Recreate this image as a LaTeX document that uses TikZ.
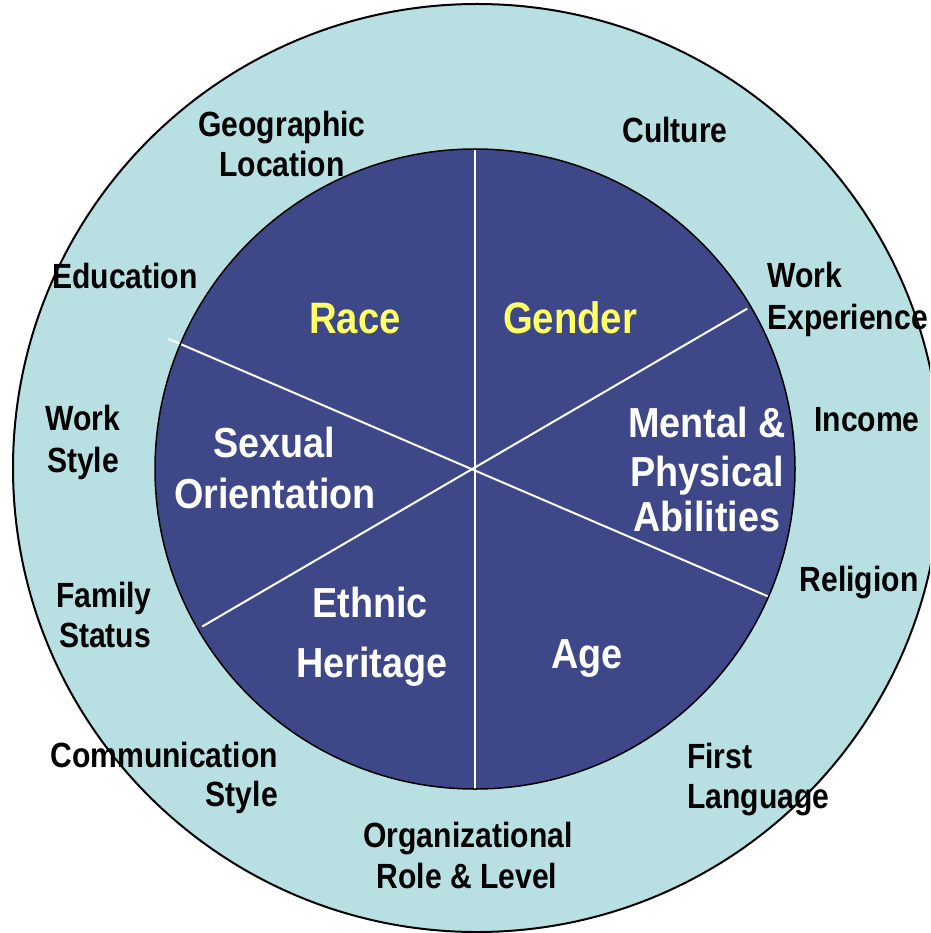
\documentclass[tikz,border=0pt]{standalone}
\usepackage{fontspec}
\setmainfont{Liberation Sans}
\newfontfamily\outerf[FakeStretch=0.86]{Liberation Sans Bold}
\newfontfamily\innerf[FakeStretch=0.9]{Liberation Sans Bold}
\newfontfamily\keyf[FakeStretch=0.87]{Liberation Sans Bold}
\definecolor{ringfill}{HTML}{B8E0E2}
\definecolor{corefill}{HTML}{3E4888}
\definecolor{keyyellow}{HTML}{FFFF66}
\begin{document}
\begin{tikzpicture}[x=1pt,y=-1pt,
  outerlbl/.style={font=\outerf\fontsize{35}{40}\selectfont, text=black, inner sep=0pt, anchor=base},
  innerlbl/.style={font=\innerf\fontsize{42}{48}\selectfont, text=white, inner sep=0pt, anchor=base},
  keylbl/.style={font=\keyf\fontsize{44}{50}\selectfont, text=keyyellow, inner sep=0pt, anchor=base},
  divider/.style={draw=white, line width=2pt}]
\useasboundingbox (0,0) rectangle (930,933);
\clip (0,0) rectangle (930,933);
% rings
\coordinate (oc) at (477,468);
\coordinate (c) at (475,469);
\fill[ringfill] (oc) circle[radius=464];
\draw[black, line width=2pt] (oc) circle[radius=464];
\fill[corefill] (c) circle[radius=320];
% dividers (y axis points down, so angles are mirrored)
\coordinate (vt) at (475,149);
\coordinate (vb) at (475,789);
\path (c) ++(-157:333) coordinate (ul);
\path (c) ++(23.5:320) coordinate (lr);
\path (c) ++(-30.5:316) coordinate (ur);
\path (c) ++(150:315) coordinate (ll);
\draw[divider] (vt) -- (vb);
\draw[divider] (ul) -- (lr);
\draw[divider] (ll) -- (ur);
\draw[black, line width=1.5pt] (c) circle[radius=320];
% outer labels
\node[outerlbl] (geo1) at (282,137) {Geographic};
\node[outerlbl] (geo2) at (282,177) {Location};
\node[outerlbl] (cult) at (675,143) {Culture};
\node[outerlbl] (edu) at (125,288) {Education};
\node[outerlbl, anchor=base west] (wexp1) at (767,287) {Work};
\node[outerlbl, anchor=base west] (wexp2) at (767,329) {Experience};
\node[outerlbl] (wsty1) at (83,430) {Work};
\node[outerlbl] (wsty2) at (83,472) {Style};
\node[outerlbl] (inc) at (867,431) {Income};
\node[outerlbl] (rel) at (859,591) {Religion};
\node[outerlbl] (fam1) at (104,607) {Family};
\node[outerlbl] (fam2) at (105,647) {Status};
\node[outerlbl, anchor=base east] (com1) at (278,767) {Communication};
\node[outerlbl, anchor=base east] (com2) at (278,806) {Style};
\node[outerlbl, anchor=base west] (fl1) at (687,768) {First};
\node[outerlbl, anchor=base west] (fl2) at (687,808) {Language};
\node[outerlbl] (org1) at (468,847) {Organizational};
\node[outerlbl] (org2) at (467,888) {Role \& Level};
% inner labels
\node[keylbl] (race) at (355,333) {Race};
\node[keylbl] (gender) at (570,333) {Gender};
\node[innerlbl] (sex1) at (274,457) {Sexual};
\node[innerlbl] (sex2) at (275,508) {Orientation};
\node[innerlbl] (men1) at (707,437) {Mental \&};
\node[innerlbl] (men2) at (707,486) {Physical};
\node[innerlbl] (men3) at (707,531) {Abilities};
\node[innerlbl] (eth1) at (370,617) {Ethnic};
\node[innerlbl] (eth2) at (372,677) {Heritage};
\node[innerlbl] (age) at (587,668) {Age};
\end{tikzpicture}
\end{document}
